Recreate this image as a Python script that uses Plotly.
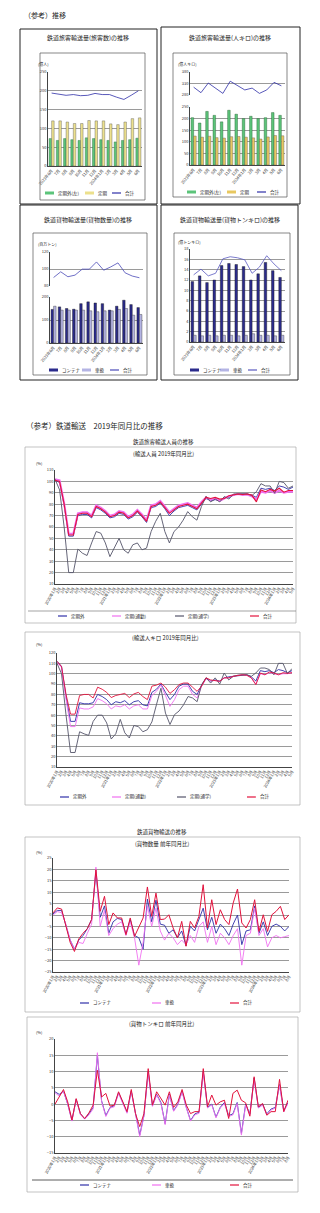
import plotly.graph_objects as go

W, H = 320, 1213
FONT = "Noto Sans CJK JP"


def px(x):
    return x / W


def py(y):
    return 1 - y / H


# ---------------- data: top small charts (13 months) ----------------
small_cats = ["2023年6月", "7月", "8月", "9月", "10月", "11月", "12月",
              "2024年1月", "2月", "3月", "4月", "5月", "6月"]

c1_teikigai = [73, 68, 73, 70, 68, 75, 73, 70, 68, 64, 68, 70, 74]
c1_teiki = [120, 120, 117, 113, 113, 121, 120, 120, 112, 110, 117, 126, 128]
c1_total = [194, 191, 188, 190, 187, 188, 193, 190, 190, 183, 177, 188, 200]

c2_teikigai = [204, 181, 231, 214, 186, 236, 219, 200, 210, 200, 204, 226, 214]
c2_teiki = [125, 120, 124, 118, 116, 122, 123, 120, 117, 112, 121, 127, 126]
c2_total = [314, 290, 332, 310, 287, 340, 320, 302, 310, 287, 302, 335, 320]

c3_container = [146, 157, 150, 147, 171, 179, 174, 171, 143, 160, 186, 167, 154]
c3_shaatsukai = [160, 143, 143, 143, 143, 140, 136, 140, 140, 146, 150, 121, 124]
c3_total = [90, 96.7, 90.9, 92.8, 99.8, 99.8, 108.3, 98.6, 102.5, 107.2, 95.5, 91.7, 89.7]

c4_container = [11.7, 12.8, 11.5, 12.0, 14.8, 15.2, 15.0, 14.6, 12.0, 13.2, 15.4, 13.8, 12.5]
c4_shaatsukai = [1.3, 1.2, 1.3, 1.2, 1.3, 1.3, 1.2, 1.3, 1.6, 1.3, 1.3, 1.2, 1.3]
c4_total = [13.0, 14.1, 12.8, 13.3, 16.1, 16.5, 16.3, 15.9, 13.3, 14.5, 16.7, 15.1, 13.8]


# ---------------- month labels for big charts ----------------
def month_labels(n, start_year=2020):
    cats, texts = [], []
    for i in range(n):
        y, m = start_year + i // 12, i % 12 + 1
        cats.append(f"{y}年{m}月")
        texts.append(f"{y}年{m}月" if m == 1 else f"{m}月")
    return cats, texts


catsAB, textAB = month_labels(53)
catsCD, textCD = month_labels(56)

# ---- A: 輸送人員 2019年同月比 ----
A_teikigai = [101, 99, 79, 52, 52, 70, 71, 71, 68, 77, 75, 72, 68, 69, 72, 71, 67, 69, 73, 69,
              64, 77, 78, 81, 76, 70, 74, 77, 78, 79, 77, 75, 80, 85, 83, 84, 83, 86, 86, 88,
              89, 89, 89, 88, 86, 94, 93, 94, 92, 96, 95, 93, 95]
A_tsukin = [102, 101, 81, 54, 54, 72, 73, 73, 70, 79, 77, 74, 70, 71, 74, 73, 69, 71, 75, 71,
            66, 79, 80, 83, 78, 73, 76, 79, 80, 81, 79, 77, 82, 86, 84, 85, 83, 85, 87, 88,
            89, 88, 88.5, 87, 84, 91, 90, 92, 90, 92, 90, 91, 91]
A_tsugaku = [102, 92.5, 60, 20, 20, 40.6, 37, 35, 46, 56, 54.6, 46, 34, 41.5, 50, 40, 37, 44.4, 46, 40,
             41.5, 56, 65, 72, 56, 46, 56, 60, 66, 73.5, 69, 66, 78, 87, 82, 84.5, 82, 86.7, 84.5, 89,
             89, 89, 89, 87.5, 91, 98, 96, 96, 89.6, 100, 99, 94, 96]
A_total = [101, 100, 80, 53, 53, 71, 72, 72, 69, 78, 76, 73, 69, 70, 73, 72, 68, 70, 74, 70,
           65, 78, 79, 82, 77, 72, 75, 78, 79, 80, 78, 76, 81, 86, 85, 86, 84.5, 85, 87.5, 88,
           89, 88.5, 89, 88, 82, 92.5, 91, 93, 91.5, 94, 90.5, 92, 92]

# ---- B: 輸送人キロ 2019年同月比 ----
B_teikigai = [112, 107, 78, 54, 54, 72, 71, 71, 72, 80, 78, 75, 70, 73, 72, 74, 70, 73, 74, 70,
              69, 82, 85, 90, 82, 75, 80, 88, 90, 90, 83, 80, 89, 96, 93, 94, 93, 96, 97, 97.5,
              98.5, 99, 99, 97, 93, 103, 102, 103, 101, 104, 103, 101, 103]
B_tsukin = [111, 106, 75, 49, 49, 67, 66, 66, 68, 76, 74, 71, 66, 69, 68, 70, 66, 69, 70, 66,
            66, 79, 83, 89, 79, 68.5, 75, 84.6, 88, 88, 80, 76.6, 88, 95, 93, 93.5, 92.5, 96, 96, 97.5,
            98.5, 99, 98.5, 96, 90, 100, 99, 101, 100, 99, 100, 100, 101]
B_tsugaku = [110, 100, 60, 24, 24, 44, 42, 40.5, 54, 60, 60, 52.5, 37, 42, 56, 43, 38, 50, 49, 44,
             46, 53.5, 70, 86, 62, 51, 60.5, 64, 70, 78, 76.6, 73, 89.5, 96, 91, 96, 90, 100.7, 94, 97.5,
             98.5, 99, 99, 97.5, 100.7, 105.5, 105.5, 104, 99, 110, 110, 100, 105]
B_total = [112, 107, 80, 61, 61, 79, 80, 80, 76.6, 87, 85, 82, 77, 79, 80, 81, 77, 80.5, 82, 78,
           75, 88, 89, 91, 87, 81, 84.6, 89.5, 91, 91, 87, 83, 88, 96, 94, 93, 92.7, 96, 96, 97.5,
           98.5, 99, 98.5, 96, 89.5, 100.7, 99, 101.7, 100.7, 99, 101, 100.4, 101]

# ---- C: 貨物数量 前年同月比 ----
C_container = [0.5, 2, 2, -4, -11, -15, -11, -9, -6, -2, 19, -1, 4, -8, -3, -1.5, -2, -8.5, -2, -9,
               -10, -15, 7, -3, 6.5, -4, -4.5, -8, -6.5, -10, -7, -13.5, -5, -7, -2, 3, -6.5, -1, -8, -4,
               -6, -9, -4, 0, -13, -7, -6.5, 4, -8, -3, -9, -5, -4, -5, -7, -5]
C_shaatsukai = [0, 1.5, 1, -4, -11, -15, -12, -12.5, -8, -4, 21, -5, 2, -9, -6, -4, -3, -9, -3, -10,
                -22, -12, 4, -5, 3, -7, -11, -8, -10, -13, -11, -13, -9, -12, -5, -3, -12, -5, -13, -8,
                -10, -13, -9, -6, -22, -9, -8, 3, -9, -6, -14, -10, -9, -10, -9.5, -9]
C_total = [0.9, 3.1, 2.6, -5, -12, -16, -10.5, -8, -6, -2, 19.9, 1.6, 8.2, -4.2, 0.9, -1.3, -1.3, -8.6, -1.3, -9.4,
           -5.7, -1.3, 12.3, -0.6, 9.6, -2, -1.8, 0.1, -5.7, -10, -2.8, -13.7, -2.8, -5.7, -0.6, 13.3, -5.7, 6.7, -4.2, 2.3,
           -2, -4.2, 5.3, 11.4, -3.5, -5.7, -2, 6.7, -7.2, 0.1, -7.2, 0.1, 1.6, 3.8, -2, 0.1]

# ---- D: 貨物トンキロ 前年同月比 ----
D_container = [3.8, 3, 4, 0, -5, 1.5, -3, -4.5, -3, -1, 15, 1, -3.5, -1, -0.5, 3.5, 0.5, -2.5, 4, -3,
               -9.5, -3.5, 10, -0.5, 3, 0.5, -6, 3, -2, 0, 4, -1, -5, -3, -2.5, 10, -1, 0, -4, -1,
               0.5, -3.5, -3, 0.5, -9, 0, -3, 8, -1, 0, -3, -1.5, -1, 6, -2, 0.5]
D_shaatsukai = [3.5, 2.5, 4, 0, -5.2, 1.5, -3.2, -4.6, -3.3, -1.5, 15.8, 0.8, -3.8, -1.2, -0.8, 3.3, 0.2, -2.8, 4, -3.3,
                -10, -3.6, 9.8, -0.7, 2.8, 0.2, -6.3, 2.8, -2.2, -0.3, 3.8, -1.2, -5.2, -3.3, -2.8, 9.8, -1.2, -0.2, -4.2, -1.2,
                0.2, -3.8, -3.3, 0.2, -9.5, -0.3, -3.3, 7.6, -1.2, -0.3, -3.3, -1.8, -1.2, 5.7, -2.4, 0.2]
D_total = [0, 2.2, 4.5, 0.7, -4.9, 1.7, -2.9, -4.4, -2.7, -0.3, 10.4, 2.2, 3.3, -0.6, -0.3, 3.8, 0.7, -2.3, 4.5, -2.9,
           -6.9, -2.9, 10.9, -0.3, 3.8, 1.7, -0.3, 3.8, -1, 0.7, 4.5, -0.3, -2.9, -2.3, -2.3, 10.9, -0.8, 2.8, -0.3, 0.7,
           1.2, -4.4, 3.3, 4.3, 1.2, 0.4, -3.7, 8.4, -0.8, 0.2, -3.4, -2.3, -2.3, 7.6, -2.3, 1.2]

# ---------------- colours ----------------
GREEN = "#5cc47a"
YELLOW = "#ece08c"
YELLOW2 = "#e8c860"
NAVY = "#2b2b8c"
LAV = "#b4b4e4"
BLUE = "#2f2fa8"
PINK = "#f070f0"
GRAY = "#55556a"
RED = "#e2123c"

fig = go.Figure()


def bar(x, y, name, color, edge, xa, ya):
    fig.add_bar(x=x, y=y, name=name, marker=dict(color=color, line=dict(color=edge, width=0.4)),
                xaxis=xa, yaxis=ya, showlegend=False)


def line(x, y, name, color, width, xa, ya):
    fig.add_scatter(x=x, y=y, name=name, mode="lines", line=dict(color=color, width=width),
                    xaxis=xa, yaxis=ya, showlegend=False)


# chart 1
bar(small_cats, c1_teikigai, "定期外(左)", GREEN, "#2d6b3c", "x", "y")
bar(small_cats, c1_teiki, "定期", YELLOW, "#555", "x", "y")
line(small_cats, c1_total, "合計", BLUE, 0.8, "x", "y")
# chart 2
bar(small_cats, c2_teikigai, "定期外(左)", GREEN, "#1f5a2c", "x2", "y3")
bar(small_cats, c2_teiki, "定期", YELLOW2, "#555", "x2", "y3")
line(small_cats, c2_total, "合計", BLUE, 0.8, "x2", "y2")
# chart 3
bar(small_cats, c3_container, "コンテナ", NAVY, "#111", "x3", "y5")
bar(small_cats, c3_shaatsukai, "車扱", LAV, "#333", "x3", "y5")
line(small_cats, c3_total, "合計", "#4a4ab8", 0.8, "x3", "y4")
# chart 4
bar(small_cats, c4_container, "コンテナ", NAVY, "#111", "x4", "y6")
bar(small_cats, c4_shaatsukai, "車扱", LAV, "#333", "x4", "y6")
line(small_cats, c4_total, "合計", "#5a5ac0", 0.8, "x4", "y6")
# big A
line(catsAB, A_teikigai, "定期外", BLUE, 0.9, "x5", "y7")
line(catsAB, A_tsukin, "定期(通勤)", PINK, 2, "x5", "y7")
line(catsAB, A_tsugaku, "定期(通学)", GRAY, 0.9, "x5", "y7")
line(catsAB, A_total, "合計", RED, 1.1, "x5", "y7")
# big B
line(catsAB, B_teikigai, "定期外", BLUE, 0.9, "x6", "y8")
line(catsAB, B_tsukin, "定期(通勤)", PINK, 0.9, "x6", "y8")
line(catsAB, B_tsugaku, "定期(通学)", GRAY, 0.9, "x6", "y8")
line(catsAB, B_total, "合計", RED, 0.9, "x6", "y8")
# big C
line(catsCD, C_container, "コンテナ", BLUE, 0.9, "x7", "y9")
line(catsCD, C_shaatsukai, "車扱", PINK, 0.9, "x7", "y9")
line(catsCD, C_total, "合計", RED, 1, "x7", "y9")
# big D
line(catsCD, D_container, "コンテナ", BLUE, 0.9, "x8", "y10")
line(catsCD, D_shaatsukai, "車扱", PINK, 0.9, "x8", "y10")
line(catsCD, D_total, "合計", RED, 1, "x8", "y10")


def xax(x0, x1, anchor, cats, texts, angle=-60, size=4):
    return dict(domain=[px(x0), px(x1)], anchor=anchor, type="category",
                tickmode="array", tickvals=cats, ticktext=texts, tickangle=angle,
                tickfont=dict(size=size, color="#333"), showgrid=False, showline=True,
                linecolor="#444", linewidth=0.6, ticks="", zeroline=False, automargin=False)


def yax(top, bot, anchor, rng, dtick, tick0=None, grid="#9a9a9a"):
    d = dict(domain=[py(bot), py(top)], anchor=anchor, range=rng, dtick=dtick,
             tickfont=dict(size=4, color="#333"), showgrid=True, gridcolor=grid, gridwidth=0.6,
             zeroline=False, showline=True, linecolor="#444", linewidth=0.6, ticks="", automargin=False)
    if tick0 is not None:
        d["tick0"] = tick0
    return d


# ---------------- frames / rules ----------------
frames = [
    (20, 29, 157, 204, "#222", 1), (161, 27, 300, 204, "#222", 1),
    (20, 205, 157, 380, "#222", 1), (161, 205, 298, 380, "#222", 1),
    (40, 53, 145, 200, "#555", 0.7), (173, 53, 287, 197, "#555", 0.7),
    (33, 233, 147, 375, "#555", 0.7), (174, 233, 290, 375, "#555", 0.7),
    (25, 447, 296, 623, "#aaa", 0.7), (25, 632, 300, 805, "#aaa", 0.7),
    (25, 837, 300, 1012, "#aaa", 0.7), (27, 1017, 298, 1192, "#aaa", 0.7),
]
shapes = []
for x0, y0, x1, y1, c, w in frames:
    shapes.append(dict(type="rect", xref="paper", yref="paper", x0=px(x0), x1=px(x1), y0=py(y1), y1=py(y0),
                       line=dict(color=c, width=w), fillcolor="rgba(0,0,0,0)", layer="above"))
shapes.append(dict(type="line", xref="paper", yref="paper", x0=px(32), x1=px(293), y0=py(1180), y1=py(1180),
                   line=dict(color="#333", width=0.8), layer="above"))
shapes.append(dict(type="line", xref="paper", yref="paper", x0=px(28), x1=px(296), y0=py(611), y1=py(611),
                   line=dict(color="#666", width=0.6), layer="above"))

ann = [
    ("（参考）推移", 22, 15, 7, "left"),
    ("鉄道旅客輸送量(旅客数)の推移", 88, 38, 6, "center"),
    ("鉄道旅客輸送量(人キロ)の推移", 230, 38, 6, "center"),
    ("鉄道貨物輸送量(貨物数量)の推移", 88, 219, 6, "center"),
    ("鉄道貨物輸送量(貨物トンキロ)の推移", 230, 219, 6, "center"),
    ("(億人)", 36, 64, 4, "left"),
    ("(億人キロ)", 176, 64, 4, "left"),
    ("(百万トン)", 36, 244, 4, "left"),
    ("(億トンキロ)", 176, 242, 4, "left"),
    ("（参考）鉄道輸送　2019年同月比の推移", 24, 425, 7.5, "left"),
    ("鉄道旅客輸送人員の推移", 163, 442, 5.5, "center"),
    ("(輸送人員 2019年同月比)", 163, 454, 5.5, "center"),
    ("(%)", 34, 463, 4, "left"),
    ("(輸送人キロ 2019年同月比)", 165, 638, 5.5, "center"),
    ("(%)", 34, 644, 4, "left"),
    ("鉄道貨物輸送の推移", 162, 832, 5.5, "center"),
    ("(貨物数量 前年同月比)", 162, 844, 5.5, "center"),
    ("(%)", 34, 852, 4, "left"),
    ("(貨物トンキロ 前年同月比)", 162, 1024, 5.5, "center"),
    ("(%)", 34, 1032, 4, "left"),
]
annotations = []
for t, x, y, s, al in ann:
    annotations.append(dict(text=t, x=px(x), y=py(y), xref="paper", yref="paper", showarrow=False,
                            xanchor=al, yanchor="middle", font=dict(size=s, color="#222", family=FONT)))

# legends (swatch + label), taken from the traces themselves
legend_rows = [
    ([0, 1, 2], 193, [45, 85, 112]),
    ([3, 4, 5], 192, [187, 227, 257]),
    ([6, 7, 8], 370, [49, 82, 110]),
    ([9, 10, 11], 370, [190, 220, 248]),
    ([12, 13, 14, 15], 616, [58, 112, 175, 250]),
    ([16, 17, 18, 19], 797, [60, 112, 177, 247]),
    ([20, 21, 22], 1003, [80, 152, 230]),
    ([23, 24, 25], 1185, [80, 152, 230]),
]
for idxs, yy, xs in legend_rows:
    for i, x0 in zip(idxs, xs):
        tr = fig.data[i]
        if tr.type == "bar":
            col, w = tr.marker.color, 3
        else:
            col, w = tr.line.color, 1.2
        shapes.append(dict(type="line", xref="paper", yref="paper", x0=px(x0), x1=px(x0 + 9),
                           y0=py(yy), y1=py(yy), line=dict(color=col, width=w), layer="above"))
        annotations.append(dict(text=tr.name, x=px(x0 + 11), y=py(yy), xref="paper", yref="paper",
                                showarrow=False, xanchor="left", yanchor="middle",
                                font=dict(size=4.5, color="#222", family=FONT)))

layout = dict(
    width=W, height=H, margin=dict(l=0, r=0, t=0, b=0),
    paper_bgcolor="white", plot_bgcolor="white",
    font=dict(family=FONT, size=5, color="#222"),
    barmode="group", bargap=0.3, bargroupgap=0.0, showlegend=False,
    xaxis=xax(48, 142, "y", small_cats, small_cats, angle=-50),
    yaxis=yax(72, 166, "x", [0, 250], 50),
    xaxis2=xax(190, 285, "y3", small_cats, small_cats, angle=-50),
    yaxis2=yax(72, 95, "x2", [280, 380], 50, tick0=280),
    yaxis3=yax(107, 165, "x2", [0, 250], 50),
    xaxis3=xax(50, 143, "y5", small_cats, small_cats, angle=-50),
    yaxis4=yax(252, 286, "x3", [80, 120], 20),
    yaxis5=yax(297, 343, "x3", [0, 200], 100),
    xaxis4=xax(190, 285, "y6", small_cats, small_cats, angle=-50),
    yaxis6=yax(249, 342, "x4", [0, 18], 2),
    xaxis5=xax(55, 293, "y7", catsAB, textAB),
    yaxis7=yax(470, 584, "x5", [10, 110], 10),
    xaxis6=xax(57, 292, "y8", catsAB, textAB),
    yaxis8=yax(653, 767, "x6", [10, 120], 10),
    xaxis7=xax(53, 289, "y9", catsCD, textCD),
    yaxis9=yax(858, 972, "x7", [-25, 25], 5),
    xaxis8=xax(55, 288, "y10", catsCD, textCD),
    yaxis10=yax(1039, 1153, "x8", [-15, 20], 5),
    shapes=shapes,
    annotations=annotations,
)
fig.update_layout(**layout)

fig.write_html("out.html")
